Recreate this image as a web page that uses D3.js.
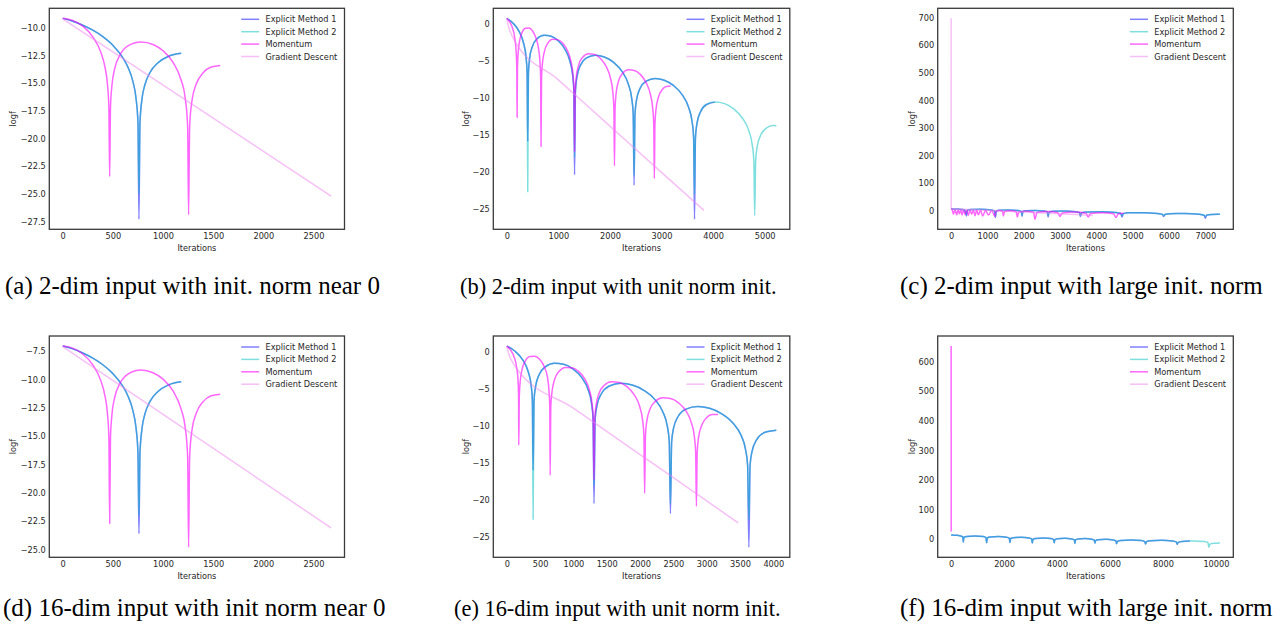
<!DOCTYPE html>
<html>
<head>
<meta charset="utf-8">
<script src="https://cdn.jsdelivr.net/npm/d3@7"></script>
<style>
  body { margin: 0; background: #fff; }
  svg text { font-family: "DejaVu Sans", sans-serif; fill: #262626; }
  .caption { font-family: "Liberation Serif", "Times New Roman", serif; fill: #000; }
</style>
</head>
<body>
<div id="chart"></div>
<script>
// ---- data: [iteration, logf] ----

// (a) 2-dim, init norm near 0
var a_em1 = [[0,-9.15],[100,-9.41],[200,-9.77],[300,-10.22],[400,-10.81],[500,-11.59],[600,-12.72],[650,-13.56],[700,-14.87],[730,-16.32],[750,-18.56],[760,-27.3],[770,-18.6],[790,-16.45],[820,-15.13],[870,-14.04],[950,-13.16],[1050,-12.6],[1120,-12.4],[1181,-12.3]];
var a_em2 = [[0,-9.15],[100,-9.41],[200,-9.77],[300,-10.22],[400,-10.81],[500,-11.59],[600,-12.72],[650,-13.56],[700,-14.87],[730,-16.32],[750,-18.56],[760,-25.0],[770,-18.6],[790,-16.45],[820,-15.13],[870,-14.04],[950,-13.16],[1050,-12.6],[1120,-12.4],[1181,-12.3]];
var a_mom = [[0,-9.15],[100,-9.34],[200,-9.86],[300,-10.82],[380,-12.22],[420,-13.5],[445,-15.03],[460,-17.17],[468,-23.44],[476,-17.25],[490,-15.25],[520,-13.63],[570,-12.46],[650,-11.63],[780,-11.28],[900,-11.51],[1000,-12.08],[1100,-13.12],[1180,-14.72],[1220,-16.29],[1245,-18.84],[1255,-26.9],[1265,-18.94],[1290,-16.49],[1330,-15.11],[1400,-14.06],[1480,-13.54],[1570,-13.4]];
var a_gd = [[0,-9.2],[2675,-25.2]];

// (b) 2-dim, unit norm init
var b_em1 = [[0,0.7],[122,0.04],[244,-1.12],[325,-2.63],[374,-4.56],[394,-6.57],[406,-15.9],[420,-6.64],[442,-4.74],[497,-3.09],[588,-2.05],[724,-1.58],[860,-1.72],[996,-2.32],[1132,-3.52],[1223,-5.05],[1278,-7.0],[1300,-9.02],[1314,-20.4],[1331,-9.1],[1360,-7.22],[1429,-5.61],[1545,-4.63],[1718,-4.27],[1891,-4.51],[2064,-5.2],[2237,-6.5],[2353,-8.1],[2422,-10.09],[2451,-12.13],[2468,-21.8],[2486,-12.22],[2515,-10.34],[2585,-8.73],[2702,-7.76],[2878,-7.4],[3054,-7.65],[3230,-8.35],[3406,-9.66],[3523,-11.26],[3593,-13.25],[3622,-15.29],[3640,-26.4],[3658,-15.39],[3687,-13.5],[3757,-11.89],[3873,-10.92],[4034,-10.6]];
var b_em2 = [[0,0.7],[122,0.04],[244,-1.12],[325,-2.63],[374,-4.56],[394,-6.57],[406,-22.7],[420,-6.64],[442,-4.74],[497,-3.09],[588,-2.05],[724,-1.58],[860,-1.72],[996,-2.32],[1132,-3.52],[1223,-5.05],[1278,-7.0],[1300,-9.02],[1314,-18.0],[1331,-9.1],[1360,-7.22],[1429,-5.61],[1545,-4.63],[1718,-4.27],[1891,-4.51],[2064,-5.2],[2237,-6.5],[2353,-8.1],[2422,-10.09],[2451,-12.13],[2468,-20.5],[2486,-12.22],[2515,-10.34],[2585,-8.73],[2702,-7.76],[2878,-7.4],[3054,-7.65],[3230,-8.35],[3406,-9.66],[3523,-11.26],[3593,-13.25],[3622,-15.29],[3640,-23.0],[3658,-15.39],[3687,-13.5],[3757,-11.89],[3873,-10.92],[4034,-10.6],[4224,-10.8],[4399,-11.51],[4574,-12.81],[4690,-14.41],[4760,-16.4],[4790,-18.44],[4807,-25.9],[4825,-18.54],[4854,-16.66],[4924,-15.04],[5040,-14.07],[5157,-13.75],[5226,-13.8]];
var b_mom = [[0,0.7],[60,0.2],[120,-0.8],[160,-2.2],[184,-4.07],[194,-6.05],[200,-12.66],[207,-6.09],[219,-4.16],[246,-2.44],[293,-1.28],[362,-0.65],[432,-0.61],[502,-1.03],[571,-2.06],[618,-3.48],[645,-5.36],[657,-7.35],[664,-16.6],[674,-7.4],[690,-5.48],[729,-3.79],[794,-2.68],[892,-2.13],[989,-2.17],[1087,-2.67],[1184,-3.78],[1249,-5.25],[1288,-7.16],[1304,-9.16],[1314,-17.3],[1326,-9.22],[1345,-7.32],[1391,-5.65],[1469,-4.57],[1585,-4.07],[1701,-4.16],[1817,-4.72],[1933,-5.87],[2011,-7.38],[2057,-9.31],[2076,-11.32],[2088,-19.2],[2100,-11.39],[2119,-9.48],[2165,-7.81],[2243,-6.74],[2359,-6.23],[2475,-6.33],[2591,-6.88],[2706,-8.04],[2784,-9.54],[2830,-11.47],[2849,-13.49],[2861,-20.9],[2873,-13.55],[2892,-11.65],[2938,-9.98],[3016,-8.9],[3093,-8.48],[3177,-8.44]];
var b_gd = [[0,0.7],[30,-0.3],[80,-1.3],[150,-2.3],[1000,-7.6],[2000,-13.84],[3000,-20.08],[3821,-25.2]];

// (c) 2-dim, large init norm
var c_em1 = [[0,8],[211,6.74],[371,3.65],[422,-18],[446,2.07],[542,4.96],[821,5.78],[1100,3.45],[1196,0.04],[1220,-24],[1242,-0.08],[1330,2.83],[1587,3.72],[1844,1.44],[1932,-1.95],[1954,-20],[1975,-2.06],[2061,0.86],[2312,1.76],[2563,-0.5],[2649,-3.88],[2670,-22],[2697,-4.01],[2804,-1.15],[3115,-0.41],[3427,-2.83],[3533,-6.27],[3560,-20],[3594,-6.43],[3732,-3.66],[4133,-3.16],[4534,-5.82],[4672,-9.34],[4706,-22],[4740,-9.53],[4878,-6.75],[5280,-6.26],[5681,-8.92],[5819,-12.44],[5853,-20],[5887,-12.62],[6025,-9.85],[6427,-9.35],[6828,-12.02],[6966,-15.54],[7000,-26],[7034,-15.72],[7172,-12.94],[7344,-12.25],[7400,-12.3]];
var c_em2 = [[0,8],[211,6.74],[371,3.65],[422,-14],[446,2.07],[542,4.96],[821,5.78],[1100,3.45],[1196,0.04],[1220,-18],[1242,-0.08],[1330,2.83],[1587,3.72],[1844,1.44],[1932,-1.95],[1954,-16],[1975,-2.06],[2061,0.86],[2312,1.76],[2563,-0.5],[2649,-3.88],[2670,-17],[2697,-4.01],[2804,-1.15],[3115,-0.41],[3427,-2.83],[3533,-6.27],[3560,-16],[3594,-6.43],[3732,-3.66],[4133,-3.16],[4534,-5.82],[4672,-9.34],[4706,-18],[4740,-9.53],[4878,-6.75],[5280,-6.26],[5681,-8.92],[5819,-12.44],[5853,-17],[5887,-12.62],[6025,-9.85],[6427,-9.35],[6828,-12.02],[6966,-15.54],[7000,-20],[7034,-15.72],[7172,-12.94],[7344,-12.25],[7400,-12.3]];
var c_mom = [[0,7],[30,5.5],[61,-12],[107,4.7],[153,-14],[190,4.5],[226,-10],[263,4.3],[300,-15],[341,4.1],[382,-13],[428,3.8],[474,-16],[520,3.6],[566,-12],[612,3.3],[657,-17],[703,3.1],[749,-14],[809,2.8],[869,-18],[947,2.4],[1025,-15],[1117,2.0],[1208,-20],[1226,-1.6],[1323,1.4],[1419,-2.2],[1437,-18],[1468,-2.5],[1630,0.6],[1792,-3.0],[1823,-22],[1862,-4.2],[2066,-0.6],[2270,-4.5],[2309,-30],[2364,-5.6],[2653,-2.2],[2942,-6.8],[2997,-20],[3059,-7.6],[3387,-4.1],[3715,-8.6],[3777,-22],[3838,-9.5],[4158,-6.2],[4477,-10.4],[4538,-24],[4600,-11.2],[4750,-8.5]];
var c_gd = [[0,697],[2,9],[1000,2.6],[2000,-3.8],[3000,-10.2],[3900,-16]];

// (d) 16-dim, init norm near 0
var d_em1 = [[0,-7.06],[100,-7.31],[200,-7.67],[300,-8.12],[400,-8.71],[500,-9.49],[600,-10.62],[650,-11.46],[700,-12.77],[730,-14.22],[750,-16.46],[760,-23.6],[770,-16.5],[790,-14.35],[820,-13.03],[870,-11.94],[950,-11.06],[1050,-10.5],[1120,-10.3],[1181,-10.2]];
var d_em2 = [[0,-7.06],[100,-7.31],[200,-7.67],[300,-8.12],[400,-8.71],[500,-9.49],[600,-10.62],[650,-11.46],[700,-12.77],[730,-14.22],[750,-16.46],[760,-22.0],[770,-16.5],[790,-14.35],[820,-13.03],[870,-11.94],[950,-11.06],[1050,-10.5],[1120,-10.3],[1181,-10.2]];
var d_mom = [[0,-7.06],[100,-7.24],[200,-7.76],[300,-8.72],[380,-10.12],[420,-11.4],[445,-12.93],[460,-15.07],[468,-22.7],[476,-15.15],[490,-13.15],[520,-11.53],[570,-10.36],[650,-9.53],[780,-9.18],[900,-9.41],[1000,-9.98],[1100,-11.02],[1180,-12.62],[1220,-14.19],[1245,-16.74],[1255,-24.8],[1265,-16.84],[1290,-14.39],[1330,-13.01],[1400,-11.96],[1480,-11.44],[1570,-11.3]];
var d_gd = [[0,-7.1],[2675,-23.1]];

// (e) 16-dim, unit norm init
var e_em1 = [[0,0.77],[120,0.1],[240,-1.1],[318,-2.6],[365,-4.5],[384,-6.5],[395,-16.0],[409,-6.6],[432,-4.7],[487,-3.07],[578,-2.03],[716,-1.55],[853,-1.7],[990,-2.3],[1126,-3.5],[1217,-5.03],[1272,-6.98],[1295,-9.0],[1309,-20.5],[1326,-9.08],[1355,-7.2],[1424,-5.6],[1539,-4.62],[1711,-4.26],[1883,-4.5],[2055,-5.2],[2227,-6.5],[2341,-8.1],[2410,-10.08],[2438,-12.1],[2456,-21.85],[2474,-12.2],[2503,-10.32],[2573,-8.71],[2690,-7.74],[2866,-7.4],[3043,-7.64],[3219,-8.34],[3396,-9.65],[3514,-11.25],[3584,-13.24],[3614,-15.28],[3633,-26.4],[3651,-15.38],[3680,-13.49],[3750,-11.88],[3867,-10.91],[4045,-10.6]];
var e_em2 = [[0,0.77],[120,0.1],[240,-1.1],[318,-2.6],[365,-4.5],[384,-6.5],[395,-22.66],[409,-6.6],[432,-4.7],[487,-3.07],[578,-2.03],[716,-1.55],[853,-1.7],[990,-2.3],[1126,-3.5],[1217,-5.03],[1272,-6.98],[1295,-9.0],[1309,-18.0],[1326,-9.08],[1355,-7.2],[1424,-5.6],[1539,-4.62],[1711,-4.26],[1883,-4.5],[2055,-5.2],[2227,-6.5],[2341,-8.1],[2410,-10.08],[2438,-12.1],[2456,-20.5],[2474,-12.2],[2503,-10.32],[2573,-8.71],[2690,-7.74],[2866,-7.4],[3043,-7.64],[3219,-8.34],[3396,-9.65],[3514,-11.25],[3584,-13.24],[3614,-15.28],[3633,-22.7],[3651,-15.38],[3680,-13.49],[3750,-11.88],[3867,-10.91],[4045,-10.6]];
var e_mom = [[0,0.77],[55,0.25],[110,-0.7],[148,-2.1],[170,-4.0],[177,-6.0],[180,-12.6],[188,-6.05],[200,-4.15],[228,-2.45],[276,-1.28],[348,-0.65],[420,-0.61],[492,-1.02],[564,-2.05],[611,-3.45],[634,-5.33],[645,-7.3],[651,-16.67],[661,-7.36],[678,-5.45],[717,-3.77],[783,-2.66],[882,-2.11],[980,-2.16],[1079,-2.66],[1177,-3.77],[1243,-5.24],[1282,-7.15],[1298,-9.14],[1308,-17.3],[1320,-9.2],[1339,-7.3],[1384,-5.64],[1460,-4.56],[1574,-4.06],[1688,-4.15],[1802,-4.71],[1916,-5.86],[1993,-7.36],[2039,-9.29],[2058,-11.3],[2069,-19.1],[2081,-11.37],[2100,-9.47],[2147,-7.8],[2224,-6.73],[2341,-6.22],[2457,-6.32],[2574,-6.87],[2691,-8.03],[2768,-9.53],[2815,-11.46],[2834,-13.48],[2846,-20.86],[2858,-13.54],[2877,-11.64],[2924,-9.97],[3001,-8.89],[3079,-8.47],[3171,-8.47]];
var e_gd = [[0,0.77],[30,-0.3],[80,-1.3],[150,-2.3],[1000,-7.62],[2000,-13.88],[3000,-20.14],[3472,-23.1]];

// (f) 16-dim, large init norm
var f_em1 = [[0,14.6],[230,13.3],[390,10.0],[445,7.5],[458,-10],[484,6.6],[590,9.7],[900,11.3],[1209,9.1],[1315,5.8],[1341,-12],[1367,4.3],[1473,7.4],[1782,9.0],[2090,6.8],[2196,3.5],[2222,-11],[2247,2.1],[2348,5.2],[2644,6.8],[2939,4.6],[3040,1.3],[3065,-13],[3090,-0.2],[3189,2.9],[3480,4.5],[3770,2.3],[3869,-1.0],[3894,-12],[3917,-1.3],[4011,1.8],[4285,3.4],[4558,1.2],[4652,-2.1],[4675,-14],[4698,-2.4],[4788,0.7],[5053,2.3],[5317,0.1],[5407,-3.2],[5430,-13],[5455,-4.7],[5553,-1.6],[5839,0],[6125,-2.2],[6223,-5.5],[6248,-15],[6281,-7.0],[6412,-3.9],[6796,-2.3],[7179,-4.5],[7310,-7.8],[7343,-16],[7379,-8.1],[7522,-5.0],[7941,-3.4],[8360,-5.6],[8503,-8.9],[8539,-17],[8575,-10.3],[8718,-7.2],[9018,-5.7]];
var f_em2 = [[0,14.6],[230,13.3],[390,10.0],[445,7.5],[458,-10],[484,6.6],[590,9.7],[900,11.3],[1209,9.1],[1315,5.8],[1341,-12],[1367,4.3],[1473,7.4],[1782,9.0],[2090,6.8],[2196,3.5],[2222,-11],[2247,2.1],[2348,5.2],[2644,6.8],[2939,4.6],[3040,1.3],[3065,-13],[3090,-0.2],[3189,2.9],[3480,4.5],[3770,2.3],[3869,-1.0],[3894,-12],[3917,-1.3],[4011,1.8],[4285,3.4],[4558,1.2],[4652,-2.1],[4675,-14],[4698,-2.4],[4788,0.7],[5053,2.3],[5317,0.1],[5407,-3.2],[5430,-13],[5455,-4.7],[5553,-1.6],[5839,0],[6125,-2.2],[6223,-5.5],[6248,-15],[6281,-7.0],[6412,-3.9],[6796,-2.3],[7179,-4.5],[7310,-7.8],[7343,-16],[7379,-8.1],[7522,-5.0],[7941,-3.4],[8360,-5.6],[8503,-8.9],[8539,-17],[8575,-10.3],[8718,-7.2],[9018,-5.7],[9137,-5.6],[9556,-7.8],[9699,-11.1],[9735,-27],[9771,-16.9],[9914,-13.8],[10150,-12.4]];
var f_mom = [[0,653],[2,26]];
var f_gd = [];

// tick values
var a_xTicks = [0, 500, 1000, 1500, 2000, 2500];
var a_yTicks = [-10, -12.5, -15, -17.5, -20, -22.5, -25, -27.5];
var b_xTicks = [0, 1000, 2000, 3000, 4000, 5000];
var b_yTicks = [0, -5, -10, -15, -20, -25];
var c_xTicks = [0, 1000, 2000, 3000, 4000, 5000, 6000, 7000];
var c_yTicks = [0, 100, 200, 300, 400, 500, 600, 700];
var d_xTicks = [0, 500, 1000, 1500, 2000, 2500];
var d_yTicks = [-7.5, -10, -12.5, -15, -17.5, -20, -22.5, -25];
var e_xTicks = [0, 500, 1000, 1500, 2000, 2500, 3000, 3500, 4000];
var e_yTicks = [0, -5, -10, -15, -20, -25];
var f_xTicks = [0, 2000, 4000, 6000, 8000, 10000];
var f_yTicks = [0, 100, 200, 300, 400, 500, 600];

var seriesNames = ["Explicit Method 1", "Explicit Method 2", "Momentum", "Gradient Descent"];
var captions = [
  "(a) 2-dim input with init. norm near 0",
  "(b) 2-dim input with unit norm init.",
  "(c) 2-dim input with large init. norm",
  "(d) 16-dim input with init norm near 0",
  "(e) 16-dim input with unit norm init.",
  "(f) 16-dim input with large init. norm"
];

// ---- styles / layout ----
var seriesColors = ["#0000ff", "#00bfbf", "#ff00ff", "#ee82ee"];
var seriesAlpha = [0.5, 0.5, 0.6, 0.5];

var svgWidth = 1273;
var svgHeight = 626;

var colBox = [[49.3, 344.5], [493.3, 789.8], [937.7, 1233.3]];
var rowBox = [[8.3, 229.3], [336, 557.3]];
var ylabOff = [36, 27.6, 26];
var capX = [[5, 460, 900], [3, 454, 900]];
var capY = [294, 616];
var capSize = [25, 22.4, 25];

var panels = [
  {col: 0, row: 0, series: [a_em1, a_em2, a_mom, a_gd], xTicks: a_xTicks, yTicks: a_yTicks, yFmt: ".1f"},
  {col: 1, row: 0, series: [b_em1, b_em2, b_mom, b_gd], xTicks: b_xTicks, yTicks: b_yTicks, yFmt: "d"},
  {col: 2, row: 0, series: [c_em1, c_em2, c_mom, c_gd], xTicks: c_xTicks, yTicks: c_yTicks, yFmt: "d"},
  {col: 0, row: 1, series: [d_em1, d_em2, d_mom, d_gd], xTicks: d_xTicks, yTicks: d_yTicks, yFmt: ".1f"},
  {col: 1, row: 1, series: [e_em1, e_em2, e_mom, e_gd], xTicks: e_xTicks, yTicks: e_yTicks, yFmt: "d"},
  {col: 2, row: 1, series: [f_em1, f_em2, f_mom, f_gd], xTicks: f_xTicks, yTicks: f_yTicks, yFmt: "d"}
];

var svg = d3.select("#chart")
  .append("svg")
  .attr("width", svgWidth)
  .attr("height", svgHeight);

panels.forEach(function(p, i) {
  var left = colBox[p.col][0], right = colBox[p.col][1];
  var top = rowBox[p.row][0], bottom = rowBox[p.row][1];

  // matplotlib-like autoscale: data extent plus 5% margin
  var all = d3.merge(p.series);
  var xExt = d3.extent(all, d => d[0]);
  var yExt = d3.extent(all, d => d[1]);
  var xPad = (xExt[1] - xExt[0]) * 0.05;
  var yPad = (yExt[1] - yExt[0]) * 0.05;

  var x = d3.scaleLinear().domain([xExt[0] - xPad, xExt[1] + xPad]).range([left, right]);
  var y = d3.scaleLinear().domain([yExt[0] - yPad, yExt[1] + yPad]).range([bottom, top]);

  var g = svg.append("g");

  g.append("clipPath").attr("id", "clip" + i)
    .append("rect")
    .attr("x", left).attr("y", top)
    .attr("width", right - left).attr("height", bottom - top);

  var line = d3.line()
    .x(d => x(d[0]))
    .y(d => y(d[1]))
    .curve(d3.curveMonotoneX);

  var plot = g.append("g").attr("clip-path", "url(#clip" + i + ")");
  p.series.forEach(function(s, k) {
    if (!s.length) return;
    plot.append("path")
      .attr("d", line(s))
      .attr("fill", "none")
      .attr("stroke", seriesColors[k])
      .attr("stroke-opacity", seriesAlpha[k])
      .attr("stroke-width", 1.5)
      .attr("stroke-linejoin", "round");
  });

  // axes: labels only, no tick marks
  var xAxis = g.append("g")
    .attr("transform", `translate(0, ${bottom})`)
    .call(d3.axisBottom(x).tickValues(p.xTicks).tickSize(0).tickPadding(4).tickFormat(d3.format("d")));
  var yAxis = g.append("g")
    .attr("transform", `translate(${left}, 0)`)
    .call(d3.axisLeft(y).tickValues(p.yTicks).tickSize(0).tickPadding(3.5).tickFormat(d3.format(p.yFmt)));
  [xAxis, yAxis].forEach(function(ax) {
    ax.select(".domain").remove();
    ax.attr("font-size", 8.2).attr("font-family", "DejaVu Sans").attr("color", "#262626");
  });

  // frame
  g.append("rect")
    .attr("x", left).attr("y", top)
    .attr("width", right - left).attr("height", bottom - top)
    .attr("fill", "none")
    .attr("stroke", "#3a3a3a")
    .attr("stroke-width", 1.3);

  // axis titles
  g.append("text")
    .attr("x", (left + right) / 2)
    .attr("y", bottom + 21.7)
    .attr("text-anchor", "middle")
    .attr("font-size", 8.2)
    .text("Iterations");

  g.append("text")
    .attr("transform", `translate(${left - ylabOff[p.col] + 3}, ${(top + bottom) / 2}) rotate(-90)`)
    .attr("text-anchor", "middle")
    .attr("font-size", 8.2)
    .text("logf");

  // legend (upper right)
  var legend = g.append("g");
  seriesNames.forEach(function(name, k) {
    var ly = top + 11 + k * 12.4;
    legend.append("line")
      .attr("x1", right - 103.3).attr("x2", right - 85.3)
      .attr("y1", ly).attr("y2", ly)
      .attr("stroke", seriesColors[k])
      .attr("stroke-opacity", seriesAlpha[k])
      .attr("stroke-width", 1.5);
    legend.append("text")
      .attr("x", right - 79)
      .attr("y", ly + 3)
      .attr("font-size", 8.2)
      .text(name);
  });

  // caption under each subfigure
  svg.append("text")
    .attr("class", "caption")
    .attr("x", capX[p.row][p.col])
    .attr("y", capY[p.row])
    .attr("font-size", capSize[p.col])
    .text(captions[i]);
});
</script>
</body>
</html>
